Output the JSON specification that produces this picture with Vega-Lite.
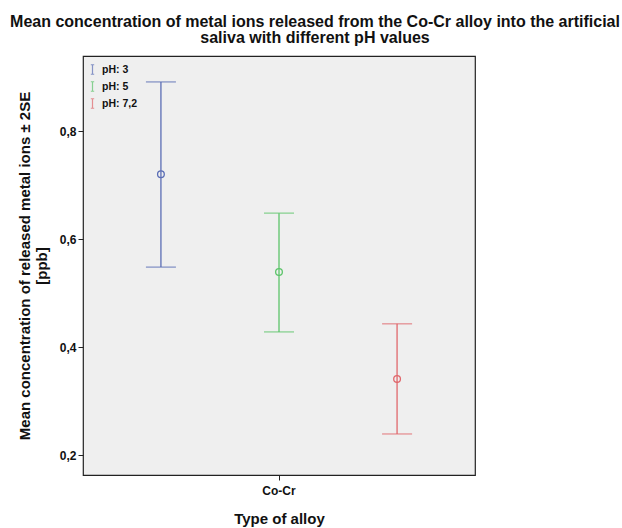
{
  "$schema": "https://vega.github.io/schema/vega-lite/v6.json",
  "width": 392,
  "height": 419,
  "autosize": {"type": "none"},
  "padding": {"left": 83, "top": 56, "right": 147, "bottom": 53},
  "background": "white",
  "title": {
    "text": ["Mean concentration of metal ions released from the Co-Cr alloy into the artificial", "saliva with different pH values"],
    "font": "Liberation Sans",
    "fontSize": 16,
    "fontWeight": "bold",
    "color": "#111111",
    "anchor": "middle",
    "dx": 36,
    "offset": 10,
    "lineHeight": 16
  },
  "config": {
    "locale": {"number": {"decimal": ",", "thousands": ".", "grouping": [3], "currency": ["", " €"]}},
    "view": {"fill": "#efefef", "stroke": "#222222", "strokeWidth": 1.2},
    "axis": {
      "labelFont": "Liberation Sans",
      "labelFontWeight": "bold",
      "labelFontSize": 12,
      "labelColor": "#111111",
      "titleFont": "Liberation Sans",
      "titleFontSize": 15,
      "titleFontWeight": "bold",
      "titleColor": "#111111",
      "tickColor": "#222222",
      "tickSize": 5,
      "domain": false,
      "grid": false
    }
  },
  "data": {
    "values": [
      {"alloy": "Co-Cr", "ph": "pH: 3", "mean": 0.72, "lo": 0.548, "hi": 0.891},
      {"alloy": "Co-Cr", "ph": "pH: 5", "mean": 0.539, "lo": 0.428, "hi": 0.648},
      {"alloy": "Co-Cr", "ph": "pH: 7,2", "mean": 0.341, "lo": 0.239, "hi": 0.443}
    ]
  },
  "encoding": {
    "x": {
      "field": "alloy",
      "type": "nominal",
      "scale": {"paddingInner": 0, "paddingOuter": 0},
      "axis": {"title": "Type of alloy", "labelAngle": 0, "labelPadding": 5, "titlePadding": 15}
    },
    "xOffset": {"field": "ph", "type": "nominal", "sort": ["pH: 3", "pH: 5", "pH: 7,2"], "scale": {"type": "point", "padding": 0.66}},
    "color": {
      "field": "ph",
      "type": "nominal",
      "sort": ["pH: 3", "pH: 5", "pH: 7,2"],
      "scale": {"domain": ["pH: 3", "pH: 5", "pH: 7,2"], "range": ["#5a6db5", "#5cc46a", "#e0676c"]},
      "legend": {
        "title": null,
        "orient": "none",
        "legendX": 4,
        "legendY": 8,
        "symbolType": "M-0.35,-1H0.35M0,-1V1M-0.35,1H0.35",
        "symbolSize": 90,
        "symbolStrokeWidth": 1.2,
        "symbolFillColor": "transparent",
        "labelFont": "Liberation Sans",
        "labelFontWeight": "bold",
        "labelFontSize": 10.5,
        "labelColor": "#111111",
        "rowPadding": 2,
        "labelOffset": 4,
        "padding": 0
      }
    }
  },
  "layer": [
    {
      "mark": {"type": "rule", "strokeWidth": 1.3},
      "encoding": {
        "y": {
          "field": "lo",
          "type": "quantitative",
          "scale": {"domain": [0.163, 0.939], "nice": false, "zero": false},
          "axis": {
            "values": [0.2, 0.4, 0.6, 0.8],
            "format": ".1f",
            "title": ["Mean concentration of released metal ions ± 2SE", "[ppb]"],
            "titlePadding": 10,
            "labelPadding": 2
          }
        },
        "y2": {"field": "hi"}
      }
    },
    {
      "mark": {"type": "tick", "thickness": 1.3, "size": 30},
      "encoding": {"y": {"field": "lo", "type": "quantitative"}}
    },
    {
      "mark": {"type": "tick", "thickness": 1.3, "size": 30},
      "encoding": {"y": {"field": "hi", "type": "quantitative"}}
    },
    {
      "mark": {"type": "point", "shape": "circle", "filled": false, "size": 45, "strokeWidth": 1.3, "opacity": 1},
      "encoding": {"y": {"field": "mean", "type": "quantitative"}}
    }
  ]
}
